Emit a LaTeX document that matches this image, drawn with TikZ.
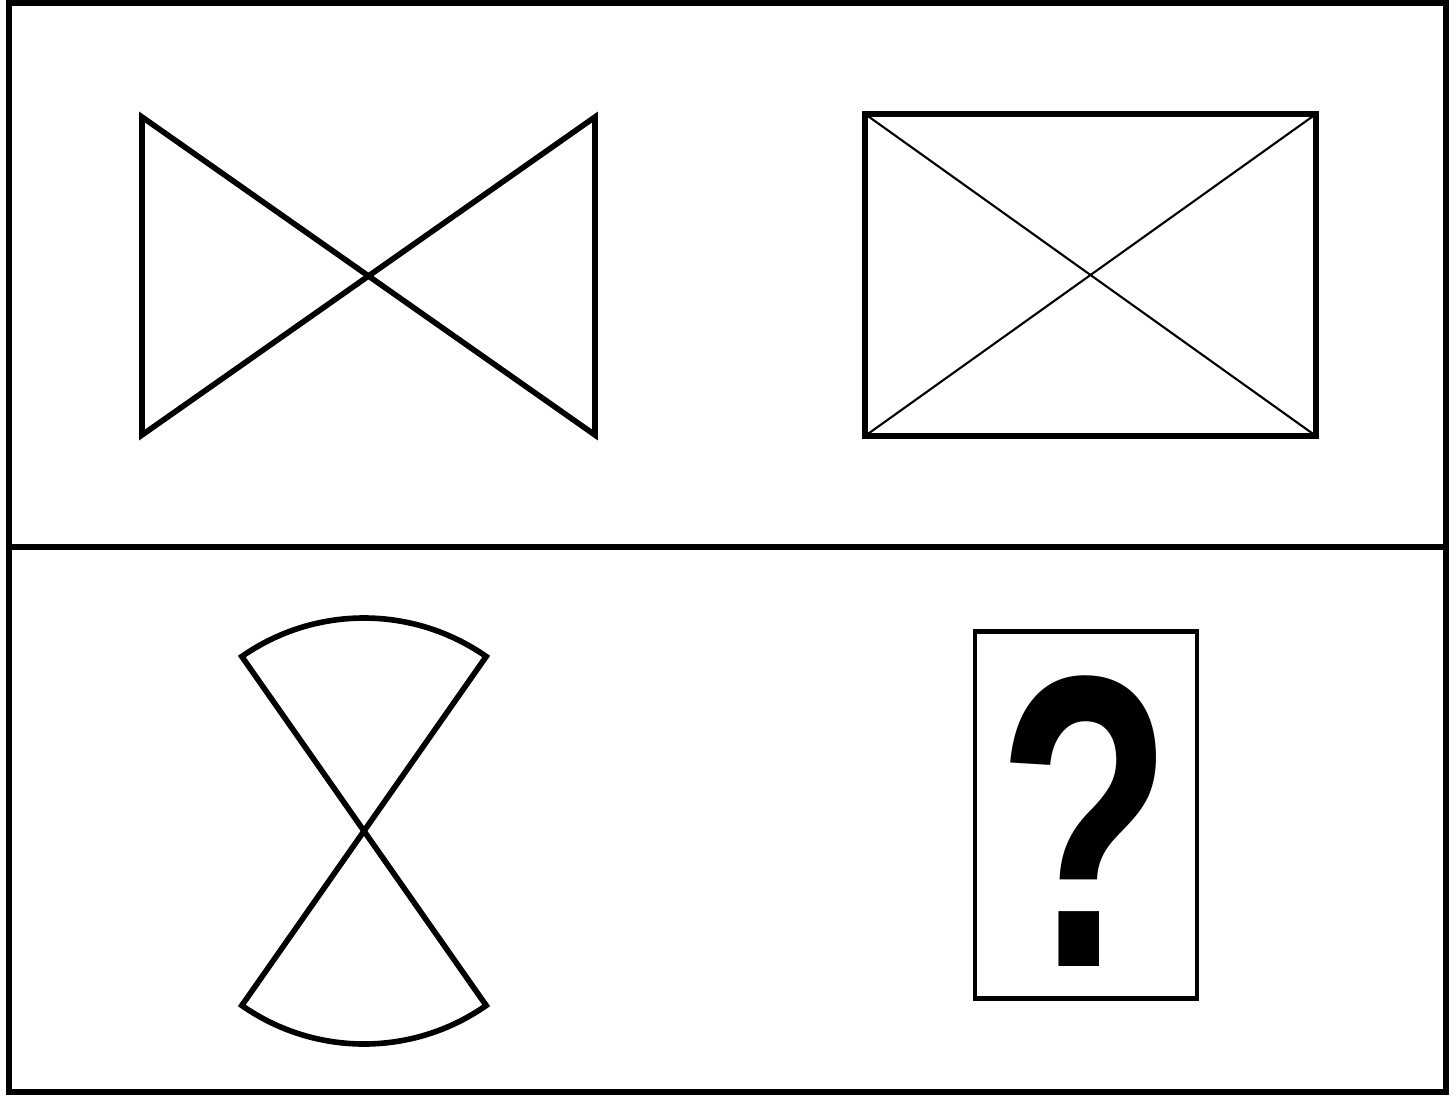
\documentclass[tikz,border=0pt]{standalone}
\usepackage{fontspec}
\newfontfamily\qfont{Liberation Sans}

\begin{document}
\begin{tikzpicture}[x=0.02cm, y=-0.02cm, line join=miter,
  every path/.style={line width=3.2pt},
  thinline/.style={line width=1.2pt}]
  \useasboundingbox (0,0) rectangle (1452,1105);

  % Frame and divider
  \draw (9,3) rectangle (1446,1092);
  \draw (9,547) -- (1446,547);

  % Bow tie (top left)
  \coordinate (bowTL) at (142,117);
  \coordinate (bowBL) at (142,435);
  \coordinate (bowTR) at (595,117);
  \coordinate (bowBR) at (595,435);
  \draw (bowTL) -- (bowBR) -- (bowTR) -- (bowBL) -- cycle;

  % Crossed rectangle (top right)
  \coordinate (boxTL) at (865,114);
  \coordinate (boxBR) at (1316,436);
  \draw (boxTL) rectangle (boxBR);
  \draw[thinline] (boxTL) -- (boxBR);
  \draw[thinline] (boxTL |- boxBR) -- (boxBR |- boxTL);

  % Hourglass of two sectors (bottom left)
  \coordinate (glassC) at (364,831);
  \draw (glassC) -- ++(-55:213) arc[start angle=-55, end angle=-125, radius=213] -- cycle;
  \draw (glassC) -- ++(55:213) arc[start angle=55, end angle=125, radius=213] -- cycle;

  % Question box (bottom right)
  \node[draw, minimum width=222*0.02cm, minimum height=367*0.02cm, inner sep=0pt,
    line width=2.6pt] (quest) at (1086,815) {};
  \node[font=\qfont\bfseries\fontsize{237}{237}\selectfont, xscale=0.69, inner sep=0pt,
    anchor=base] (qmark) at (1085,966) {?};
\end{tikzpicture}
\end{document}
